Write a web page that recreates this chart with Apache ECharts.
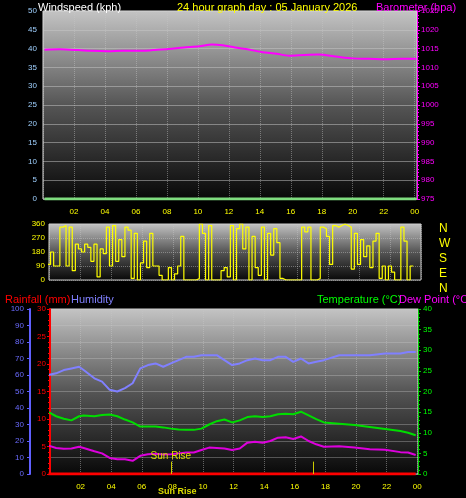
<!DOCTYPE html><html><head><meta charset="utf-8">
<script src="https://cdn.jsdelivr.net/npm/echarts@6/dist/echarts.min.js"></script>
<style>html,body{margin:0;background:#000}#c{width:466px;height:498px}</style></head><body><div id="c"></div>
<script>
const hourTicks=['02','04','06','08','10','12','14','16','18','20','22','00'];
const baroHours=[0,1,2.2,3,4.1,5,6.3,7,8,9,10,10.8,11.5,12.3,13,14,15,15.8,16.8,17.7,18.8,19.9,21,22,23,24];
const baroVals=[1014.7,1014.8,1014.6,1014.4,1014.3,1014.4,1014.4,1014.6,1014.9,1015.3,1015.6,1016.1,1015.9,1015.3,1014.9,1014.1,1013.6,1013.1,1013.3,1013.4,1012.9,1012.4,1012.3,1012.2,1012.3,1012.3];
const windHours=[0,24];
const windVals=[0,0];
const dirHours=[0.2,0.4,0.6,0.8,1,1.2,1.4,1.6,1.8,2,2.2,2.4,2.6,2.8,3,3.2,3.4,3.6,3.8,4,4.2,4.4,4.6,4.8,5,5.2,5.4,5.6,5.8,6,6.2,6.4,6.6,6.8,7,7.2,7.4,7.6,7.8,8,8.2,8.4,8.6,8.8,9,9.2,9.4,9.6,9.8,10,10.2,10.4,10.6,10.8,11,11.2,11.4,11.6,11.8,12,12.2,12.4,12.6,12.8,13,13.2,13.4,13.6,13.8,14,14.2,14.4,14.6,14.8,15,15.2,15.4,15.6,15.8,16,16.2,16.4,16.6,16.8,17,17.2,17.4,17.6,17.8,18,18.2,18.4,18.6,18.8,19,19.2,19.4,19.6,19.8,20,20.2,20.4,20.6,20.8,21,21.2,21.4,21.6,21.8,22,22.2,22.4,22.6,22.8,23,23.2,23.4,23.6,23.8,24];
const dirVals=[250,100,180,90,90,340,350,90,340,60,230,200,180,230,210,120,230,20,200,170,340,90,350,120,260,150,340,320,10,300,0,110,250,80,300,90,90,30,0,0,80,0,40,90,280,0,0,0,0,10,360,300,0,350,0,0,0,60,80,20,350,0,330,360,200,340,0,280,80,30,340,0,300,160,330,240,10,0,0,0,0,0,0,340,310,340,0,0,10,340,330,280,100,350,340,350,360,350,340,70,300,100,260,150,220,80,250,300,10,90,0,90,50,0,0,340,250,0,90,90,0];
const hourBottom=[0,0.5,1,1.5,2,2.3,3,3.5,4,4.5,5,5.5,6,6.5,7,7.5,8,8.5,9,9.5,10,10.5,11,11.5,12,12.5,13,13.5,14,14.5,15,15.5,16,16.5,17,17.5,18,19,20,21,22,23,23.5,24];
const humidity=[60,61,63,64,65,63,58,56,51,50,52,55,64,66,67,65,67,69,71,71,72,72,72,69,66,67,69,70,69,69,71,71,68,70,67,68,69,72,72,72,73,73,74,74];
const temperature=[15,14,13.4,13,14,14.2,14,14.3,14.4,14,13.2,12.5,11.5,11.5,11.5,11.3,11,10.8,10.7,10.7,11,12,12.8,13.2,12.5,13,13.8,14,13.8,14,14.5,14.6,14.5,15.1,14.2,13.3,12.5,12.2,11.9,11.4,10.9,10.4,10,9.4];
const dewPoint=[6.9,6.3,6.1,6.2,6.6,6.3,5.5,5,3.9,3.6,3.6,3.2,4.4,4.8,4.9,4.7,4.8,5,5.2,5.2,5.8,6.4,6.3,6.2,5.8,6.2,7.6,7.8,7.6,8,8.8,8.9,8.5,9.1,8,7.2,6.6,6.7,6.4,6,5.9,5.3,5.2,4.6];
const rainfall=[0,0];const rainHours=[0,24];

const gradBg={type:'linear',x:0,y:0,x2:0,y2:1,colorStops:[{offset:0,color:'#c4c4c4'},{offset:0.5,color:'#555'},{offset:1,color:'#080808'}]};
const hourFmt=v=>{const h=Math.round(v)%24;return (h<10?'0':'')+h;};
const dot={show:true,lineStyle:{color:'rgba(200,200,200,0.45)',type:'dotted'}};
const font={fontFamily:'Liberation Sans',fontSize:8};
const tfont=(c)=>({color:c,fontSize:11,fontWeight:'normal',fontFamily:'Liberation Sans'});
function xAx(grid,min,max,showLab){return {type:'value',gridIndex:grid,min:min,max:max,interval:2,
  axisLine:{show:false},axisTick:{show:false},
  axisLabel:{show:showLab,color:'#ffff00',...font,margin:9,formatter:v=>v<1.5?'':hourFmt(v)},splitLine:dot};}
const ch=echarts.init(document.getElementById('c'));
ch.setOption({backgroundColor:'#000',animation:false,
 title:[
  {text:'Windspeed (kph)',left:33,top:-3,textStyle:tfont('#fff')},
  {text:'24 hour graph day : 05 January 2026',left:172,top:-3,textStyle:tfont('#ffff00')},
  {text:'Barometer (hpa)',left:371,top:-3,textStyle:tfont('#ff00ff')},
  {text:'Rainfall (mm)',left:0,top:289,textStyle:tfont('#ff0000')},
  {text:'Humidity',left:66,top:289,textStyle:tfont('#8080ff')},
  {text:'Temperature (°C)',left:312,top:289,textStyle:tfont('#00ff00')},
  {text:'Dew Point (°C)',left:394,top:289,textStyle:tfont('#ff00ff')},
  {text:'Sun Rise',left:153,top:482,textStyle:{color:'#dddd00',fontSize:9,fontFamily:'Liberation Sans'}},
  {text:'N\nW\nS\nE\nN',left:434,top:216,textStyle:{color:'#ffff00',fontSize:12,fontWeight:'normal',lineHeight:15,fontFamily:'Liberation Sans'}}
 ],
 grid:[
  {left:43,width:374,top:11,height:188,show:true,backgroundColor:gradBg,borderColor:'#ddd',borderWidth:1},
  {left:49,width:372,top:224,height:56,show:true,backgroundColor:gradBg,borderColor:'#ccc',borderWidth:1},
  {left:50,width:368,top:309,height:165,show:true,backgroundColor:gradBg,borderColor:'#ccc',borderWidth:1}
 ],
 xAxis:[xAx(0,-0.1,24.05,true),xAx(1,0.5,24.5,false),xAx(2,0.1,24.15,true)],
 yAxis:[
  {type:'value',gridIndex:0,min:0,max:50,interval:5,position:'left',axisLine:{show:false},axisTick:{show:false},axisLabel:{color:'#9fd0ff',...font,margin:6},splitLine:{show:true,lineStyle:{color:'rgba(200,200,200,0.5)'}}},
  {type:'value',gridIndex:0,min:975,max:1025,interval:5,position:'right',axisLine:{show:true,lineStyle:{color:'#ff00ff'}},axisTick:{show:true,length:3},minorTick:{show:true,splitNumber:5,length:2},axisLabel:{color:'#ff00ff',...font,margin:4,formatter:v=>String(v)},splitLine:{show:false}},
  {type:'value',gridIndex:1,min:0,max:360,interval:90,position:'left',axisLine:{show:false},axisTick:{show:false},axisLabel:{color:'#ffff00',...font,margin:4},splitLine:dot},
  {type:'value',gridIndex:2,min:0,max:30,interval:5,position:'left',axisLine:{show:true,lineStyle:{color:'#ff0000',width:2}},axisTick:{show:true,length:3},minorTick:{show:true,splitNumber:5,length:2},axisLabel:{color:'#ff0000',...font,margin:4},splitLine:{show:false}},
  {type:'value',gridIndex:2,min:0,max:100,interval:10,position:'left',offset:20,axisLine:{show:true,lineStyle:{color:'#6060ff',width:2}},axisTick:{show:true,length:3},axisLabel:{color:'#6b6bff',...font,margin:6},splitLine:{show:true,lineStyle:{color:'rgba(200,200,200,0.35)'}}},
  {type:'value',gridIndex:2,min:0,max:40,interval:5,position:'right',axisLine:{show:true,lineStyle:{color:'#00cc00'}},axisTick:{show:true,length:3},minorTick:{show:true,splitNumber:5,length:2},axisLabel:{color:'#00ff00',...font,margin:5},splitLine:{show:false}}
 ],
 series:[
  {type:'line',xAxisIndex:0,yAxisIndex:0,data:windHours.map((h,i)=>[h,windVals[i]]),showSymbol:false,lineStyle:{color:'#7fdc7f',width:3}},
  {type:'line',xAxisIndex:0,yAxisIndex:1,data:baroHours.map((h,i)=>[h,baroVals[i]]),showSymbol:false,smooth:0.3,lineStyle:{color:'#ff00ff',width:2}},
  {type:'line',xAxisIndex:1,yAxisIndex:2,data:dirHours.map((h,i)=>[h,dirVals[i]]),showSymbol:false,step:'end',lineStyle:{color:'#ffff00',width:1.2}},
  {type:'line',xAxisIndex:2,yAxisIndex:4,data:hourBottom.map((h,i)=>[h,humidity[i]]),showSymbol:false,lineStyle:{color:'#8080ff',width:2}},
  {type:'line',xAxisIndex:2,yAxisIndex:5,data:hourBottom.map((h,i)=>[h,temperature[i]]),showSymbol:false,lineStyle:{color:'#00dd00',width:2}},
  {type:'line',xAxisIndex:2,yAxisIndex:5,data:hourBottom.map((h,i)=>[h,dewPoint[i]]),showSymbol:false,lineStyle:{color:'#dd00dd',width:2},
   markLine:{silent:true,symbol:'none',lineStyle:{color:'#cccc00',type:'solid',width:1},
    data:[[{coord:[8,0],label:{show:true,position:'end',formatter:'Sun Rise',color:'#dddd00',fontSize:10,fontFamily:'Liberation Sans',distance:0}},{coord:[8,3]}],
          [{coord:[17.3,0],label:{show:false}},{coord:[17.3,3]}]]}},
  {type:'line',xAxisIndex:2,yAxisIndex:3,data:rainHours.map((h,i)=>[h,rainfall[i]]),showSymbol:false,lineStyle:{color:'#ff0000',width:3}}
 ]
});
</script></body></html>
